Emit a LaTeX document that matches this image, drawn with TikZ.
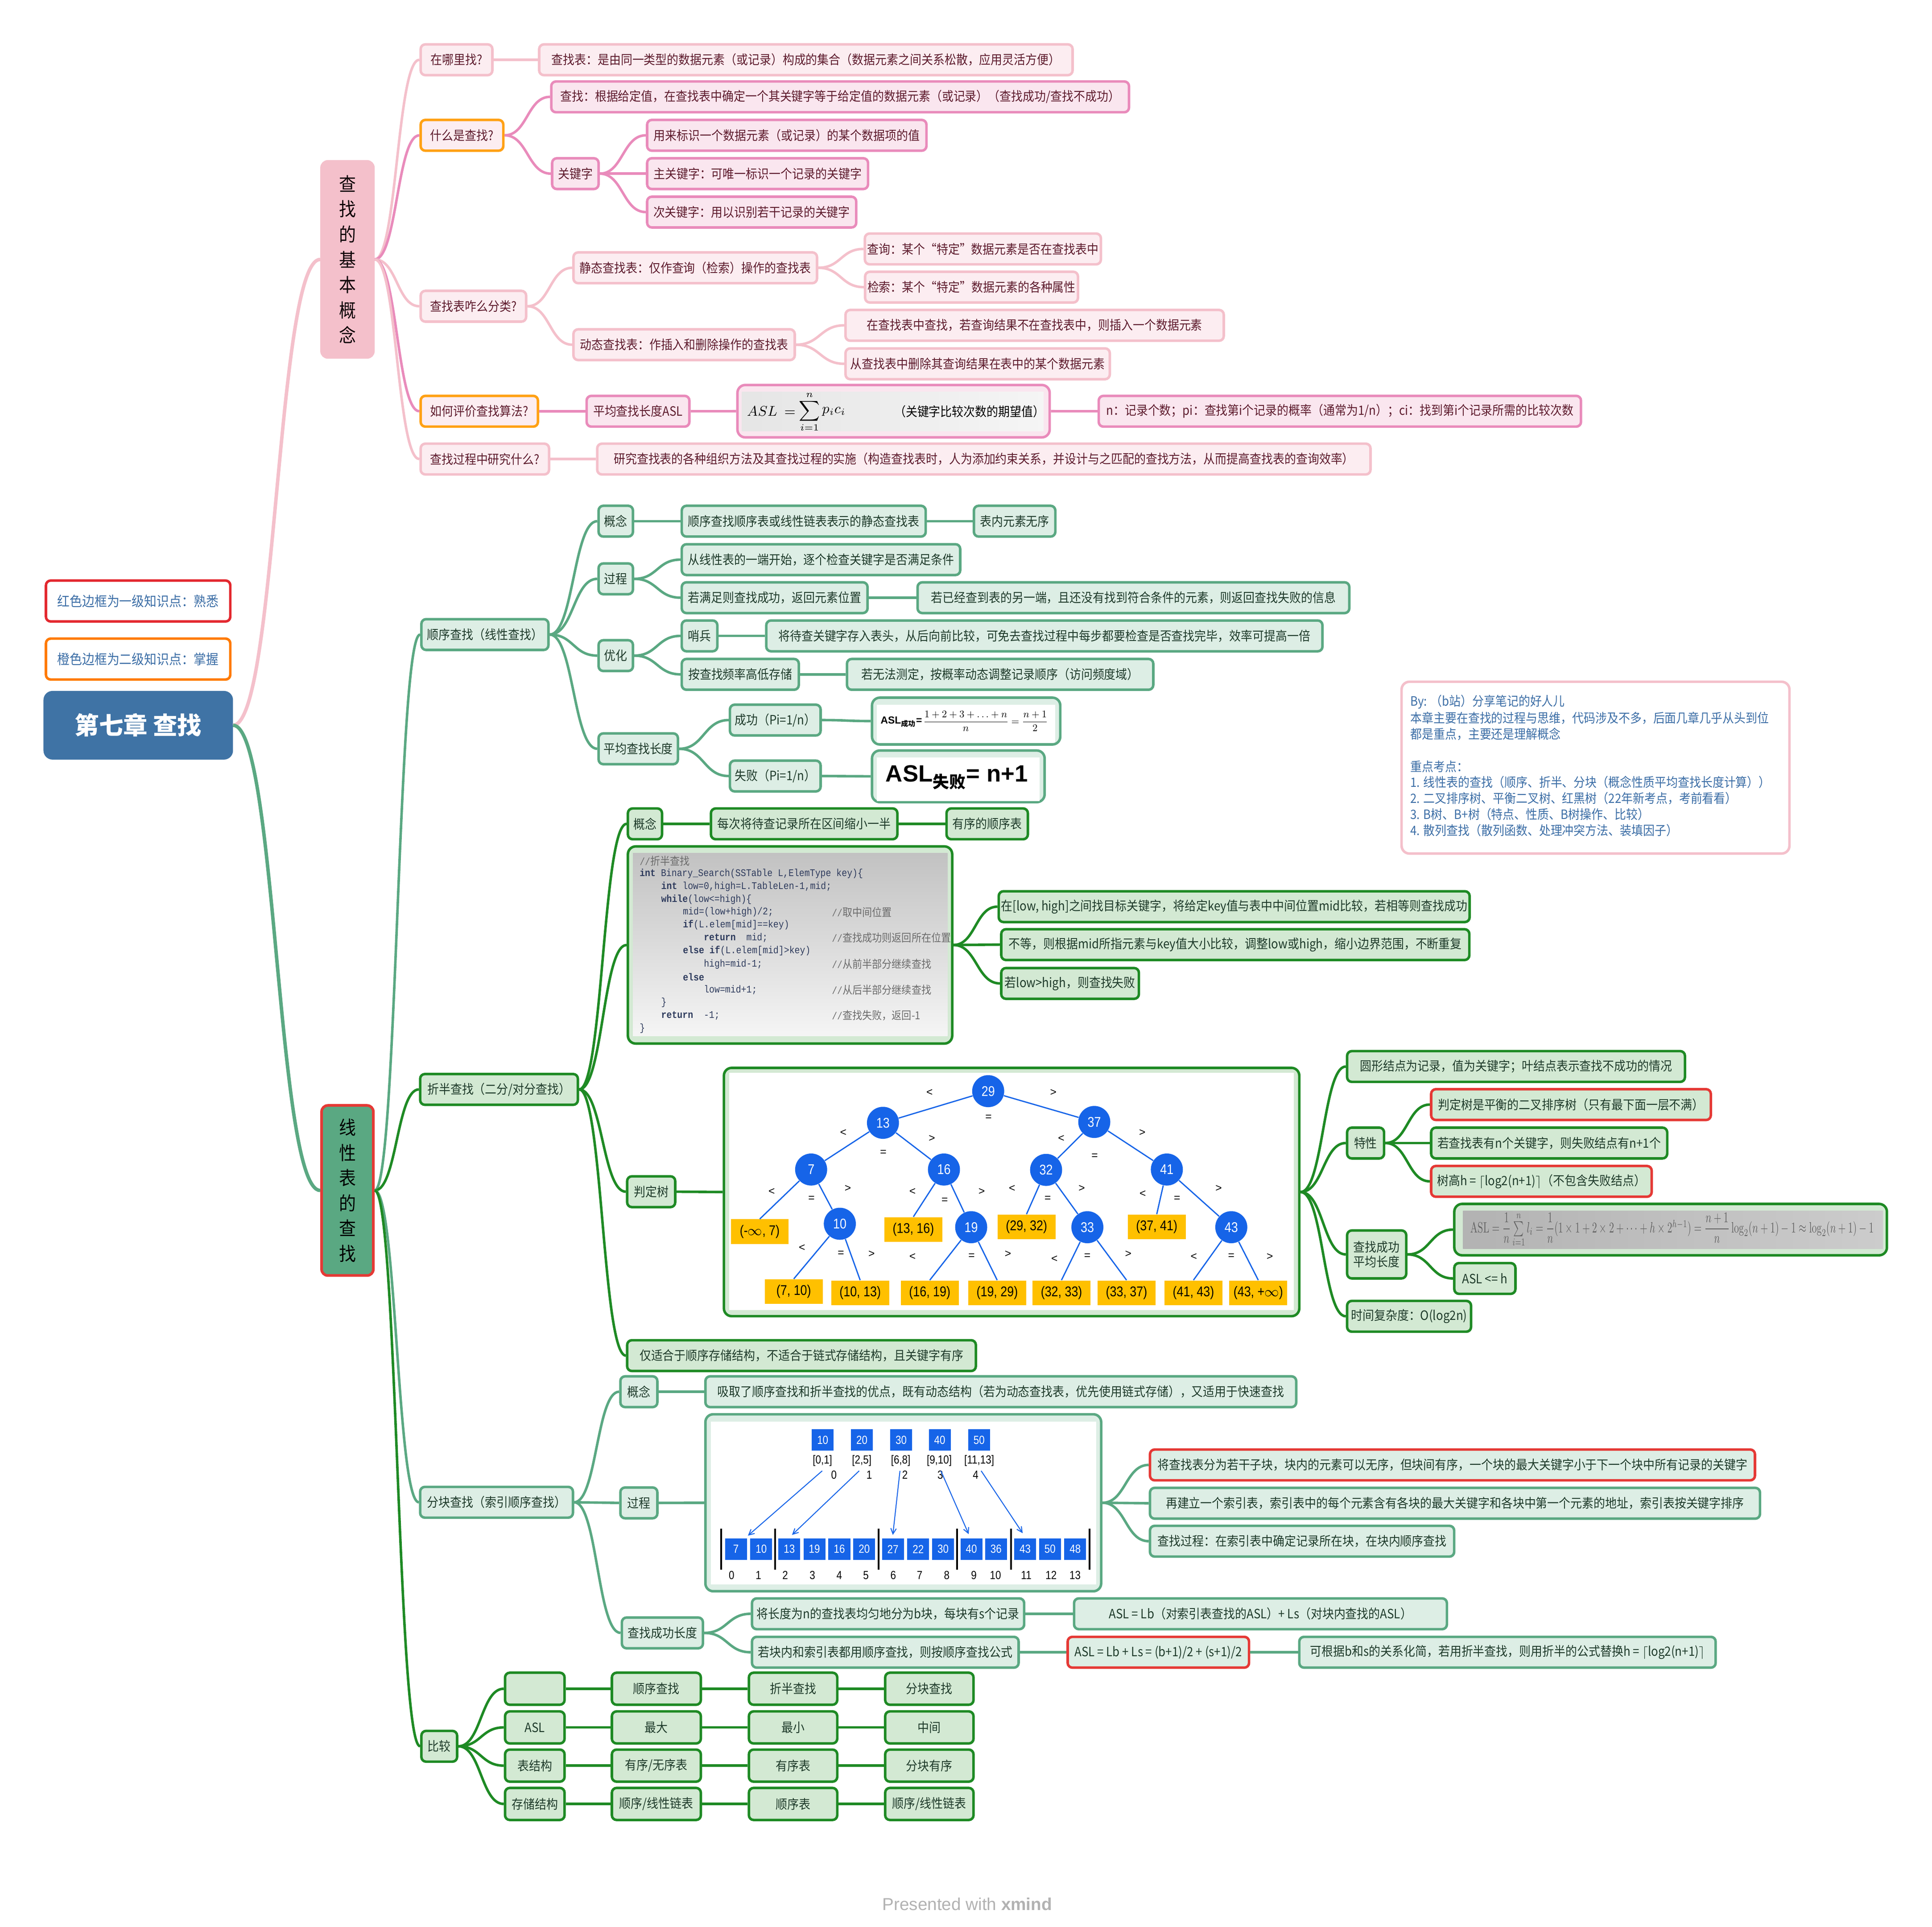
\documentclass[tikz,border=0pt]{standalone}
\usepackage{amsmath}
\usepackage{graphicx}
\usepackage[no-math]{fontspec}
\setmainfont{Noto Sans CJK SC}[FakeStretch=0.9]
\newfontfamily\cjkplain{Noto Sans CJK SC}
\newfontfamily\lsans{Liberation Sans}
\newfontfamily\lsansn{Liberation Sans}[FakeStretch=0.85]
\newfontfamily\lmono{Liberation Mono}[FakeStretch=0.87]
\usetikzlibrary{calc,arrows.meta}
\definecolor{pinkL}{HTML}{F4C0CB}
\definecolor{pinkS}{HTML}{E98BBB}
\definecolor{pinkF}{HTML}{FCEDF1}
\definecolor{pinkF2}{HTML}{FAE6EF}
\definecolor{pinkT}{HTML}{5E1B2D}
\definecolor{orB}{HTML}{FFA114}
\definecolor{gMid}{HTML}{5AA882}
\definecolor{gMidF}{HTML}{DDEEE5}
\definecolor{gViv}{HTML}{1E8A24}
\definecolor{gVivF}{HTML}{D3E9D3}
\definecolor{gT}{HTML}{1E3A2A}
\definecolor{redB}{HTML}{E53935}
\definecolor{rootB}{HTML}{3F73A5}
\definecolor{noteT}{HTML}{3C6EA6}
\definecolor{legR}{HTML}{E3282F}
\definecolor{legO}{HTML}{FF7A00}
\definecolor{treeB}{HTML}{1664E8}
\definecolor{leafY}{HTML}{FFC000}
\definecolor{codeT}{HTML}{2D3A5C}
\definecolor{cmt}{HTML}{6B6B6B}
\newcommand\myun{0.027628cm}
\newcommand\nf{\fontsize{8.2}{9.5}\selectfont}
\newcommand\bx[6]{\node[#1,minimum width={(#4-#3)*\myun}] (#2) at ({(#3+#4)/2},#5) {#6};}
\newcommand\cn[3]{\draw[#1] (#2.east) to[mm] (#3.west);}
\newcommand\kw[1]{\textbf{#1}}
\newcommand\cmz[1]{{\normalfont\fontsize{7}{8}\selectfont #1}}
\tikzset{
  mm/.style={to path={let \p1=(\tikztostart), \p2=(\tikztotarget), \n1={0.5*(\x2-\x1)} in .. controls (\x1+\n1,\y1) and (\x2-\n1,\y2) .. (\tikztotarget)}},
  mbox/.style={rounded corners=3pt, line width=1.6pt, minimum height=0.69cm, inner xsep=1.5pt, inner ysep=1pt, font=\nf, align=center},
  pl/.style={mbox, draw=pinkL, fill=pinkF, text=pinkT},
  ps/.style={mbox, draw=pinkS, fill=pinkF2, text=pinkT},
  po/.style={mbox, draw=orB, fill=pinkF, text=pinkT},
  gm/.style={mbox, draw=gMid, fill=gMidF, text=gT},
  gv/.style={mbox, draw=gViv, fill=gVivF, text=gT},
  gmr/.style={gm, draw=redB},
  gvr/.style={gv, draw=redB},
  topic/.style={rounded corners=4pt, line width=1.7pt, align=center, inner sep=0pt, font=\fontsize{12}{16.1}\selectfont},
  legst/.style={mbox, fill=white, text=noteT, line width=1.6pt, minimum height={33.2*\myun}, font=\fontsize{8.8}{10}\selectfont},
  rootst/.style={mbox, draw=rootB, fill=rootB, text=white, rounded corners=5pt, minimum height={53.7*\myun}, font=\cjkplain\bfseries\fontsize{15.5}{18}\selectfont},
  lp/.style={draw=pinkL, line width=1.6pt},
  lps/.style={draw=pinkS, line width=1.6pt},
  lgm/.style={draw=gMid, line width=1.6pt},
  lgv/.style={draw=gViv, line width=1.6pt},
  lrp/.style={draw=pinkL, line width=2.2pt},
  lrg/.style={draw=gMid, line width=2.2pt},
  tc/.style={circle, fill=treeB, text=white, minimum size={26*\myun}, inner sep=0pt, font=\lsansn\fontsize{9}{10}\selectfont},
  leaf/.style={fill=leafY, text=black, minimum width={47*\myun}, minimum height={20*\myun}, inner sep=0pt, font=\lsansn\fontsize{9}{10}\selectfont},
  te/.style={draw=treeB, line width=0.8pt},
  tlab/.style={inner sep=0pt, font=\lsans\fontsize{7}{8}\selectfont},
  bsq/.style={fill=treeB, text=white, minimum width={17.8*\myun}, minimum height={17.4*\myun}, inner sep=0pt, font=\lsansn\fontsize{7.5}{8}\selectfont},
  blab/.style={inner sep=0pt, text=black, font=\lsansn\fontsize{7.5}{8}\selectfont},
  barr/.style={draw=treeB, line width=0.6pt, -{Straight Barb[length=3.5pt,width=3.5pt]}},
  cd/.style={inner sep=0pt, anchor=west, text=codeT, font=\lmono\fontsize{6.5}{7}\selectfont},
  fm/.style={inner sep=0pt, text=black},
}
\begin{document}
\begin{tikzpicture}[x=0.027628cm,y=-0.027628cm]
\fill[white] (0,0) rectangle (1568,1563.6);
\useasboundingbox (0,0) rectangle (1568,1563.6);

% ---------- legend and root
\bx{legst,draw=legR}{leg1}{37.3}{186.9}{487.7}{红色边框为一级知识点：熟悉}
\bx{legst,draw=legO}{leg2}{37.3}{186.9}{534.8}{橙色边框为二级知识点：掌握}
\bx{rootst}{root}{36.3}{188.1}{588.5}{第七章 查找}

% ---------- main topics
\node[topic, draw=pinkL, fill=pinkL, text=black!85!pinkT, minimum width={42*\myun}, minimum height={159*\myun}] (P0) at (282,210.5) {查\\找\\的\\基\\本\\概\\念};
\node[topic, draw=redB, fill=gMid, text=black, minimum width={42*\myun}, minimum height={138*\myun}] (G0) at (282,966) {线\\性\\表\\的\\查\\找};

% ---------- pink branch
\bx{pl}{p1}{341.4}{399.6}{48.5}{在哪里找?}
\bx{pl}{p1a}{437.6}{870.5}{48.5}{查找表：是由同一类型的数据元素（或记录）构成的集合（数据元素之间关系松散，应用灵活方便）}
\bx{po}{p2}{341.4}{408.5}{109.8}{什么是查找?}
\bx{ps}{p2a}{447.4}{916.3}{78.6}{查找：根据给定值，在查找表中确定一个其关键字等于给定值的数据元素（或记录）（查找成功/查找不成功）}
\bx{ps}{p2b}{448.1}{485.8}{140.9}{关键字}
\bx{ps}{p2b1}{525.2}{751.9}{109.8}{用来标识一个数据元素（或记录）的某个数据项的值}
\bx{ps}{p2b2}{525.2}{704.5}{140.9}{主关键字：可唯一标识一个记录的关键字}
\bx{ps}{p2b3}{525.2}{694.9}{172.1}{次关键字：用以识别若干记录的关键字}
\bx{pl}{p3}{341.4}{427}{248.5}{查找表咋么分类?}
\bx{pl}{p3a}{465.4}{663.1}{217.3}{静态查找表：仅作查询（检索）操作的查找表}
\bx{pl}{p3a1}{704.4}{891.0}{202}{查询：某个“特定”数据元素是否在查找表中}
\bx{pl}{p3a2}{704.4}{872.6}{233}{检索：某个“特定”数据元素的各种属性}
\bx{pl}{p3b}{465.4}{645.0}{279.7}{动态查找表：作插入和删除操作的查找表}
\bx{pl}{p3b1}{686.2}{993.2}{264}{在查找表中查找，若查询结果不在查找表中，则插入一个数据元素}
\bx{pl}{p3b2}{686.2}{900.7}{295.2}{从查找表中删除其查询结果在表中的某个数据元素}
\bx{po}{p4}{341.4}{436.6}{333.7}{如何评价查找算法?}
\bx{ps}{p4a}{476.1}{559.5}{333.7}{平均查找长度ASL}
\node[ps, minimum width={253.4*\myun}, minimum height={42.5*\myun}, rounded corners=5pt] (p4b) at (725.2,333.65) {};
\shade[left color=black!10, right color=black!4] (602.2,318.1) rectangle (846.9,350);
\node[fm, anchor=west] (p4f1) at (606,333.5) {\fontsize{9}{11}\selectfont$ASL\ =$};
\node[fm] (p4fs) at (657,333.5) {\fontsize{9}{11}\selectfont$\displaystyle\sum$};
\node[fm] (p4fn) at (657,320.5) {\fontsize{6.5}{7}\selectfont$n$};
\node[fm] (p4fi) at (657,346.8) {\fontsize{6.5}{7}\selectfont$i{=}1$};
\node[fm, anchor=west] (p4fp) at (667,334) {\fontsize{9}{11}\selectfont$p_i c_i$};
\node[fm, font=\nf] (p4f2) at (786.8,334) {（关键字比较次数的期望值）};
\bx{ps}{p4c}{891.7}{1283.1}{333.7}{n：记录个数；pi：查找第i个记录的概率（通常为1/n）；ci：找到第i个记录所需的比较次数}
\bx{pl}{p5}{341.4}{445.6}{372.5}{查找过程中研究什么?}
\bx{pl}{p5a}{484.7}{1112.3}{372.5}{研究查找表的各种组织方法及其查找过程的实施（构造查找表时，人为添加约束关系，并设计与之匹配的查找方法，从而提高查找表的查询效率）}

% ---------- sequential search
\bx{gm}{s}{342}{445.1}{514.9}{顺序查找（线性查找）}
\bx{gm}{s1}{485.8}{513.7}{422.9}{概念}
\bx{gm}{s1a}{553.3}{751.3}{422.9}{顺序查找顺序表或线性链表表示的静态查找表}
\bx{gm}{s1b}{790.4}{856.5}{422.9}{表内元素无序}
\bx{gm}{s2}{485.8}{513.7}{469.7}{过程}
\bx{gm}{s2a}{553.3}{779.3}{454.1}{从线性表的一端开始，逐个检查关键字是否满足条件}
\bx{gm}{s2b}{553.3}{704.1}{485}{若满足则查找成功，返回元素位置}
\bx{gm}{s2c}{744.7}{1095.1}{485}{若已经查到表的另一端，且还没有找到符合条件的元素，则返回查找失败的信息}
\bx{gm}{s3}{485.8}{513.7}{532}{优化}
\bx{gm}{s3a}{553.3}{582.2}{516}{哨兵}
\bx{gm}{s3a1}{621.9}{1073.3}{516}{将待查关键字存入表头，从后向前比较，可免去查找过程中每步都要检查是否查找完毕，效率可提高一倍}
\bx{gm}{s3b}{553.3}{648.3}{547.2}{按查找频率高低存储}
\bx{gm}{s3b1}{687.4}{936}{547.2}{若无法测定，按概率动态调整记录顺序（访问频度域）}
\bx{gm}{s4}{485.8}{550.2}{607.6}{平均查找长度}
\bx{gm}{s4a}{592.4}{666.0}{584.3}{成功（Pi=1/n）}
\bx{gm}{s4b}{592.4}{666.0}{629.7}{失败（Pi=1/n）}
\node[gm, minimum width={152.8*\myun}, minimum height={38*\myun}, rounded corners=5pt] (s4af) at (784.1,585.1) {};
\fill[white] (711.7,571.8) rectangle (856.5,602.5);
\node[fm, anchor=west] (s4af1) at (714.5,585.8) {\lsans\bfseries\fontsize{6.5}{7}\selectfont ASL\textsubscript{\cjkplain 成功}=};
\node[fm, anchor=west] (s4af2) at (749,585.3) {\resizebox{2.8cm}{!}{$\dfrac{1+2+3+\ldots+n}{n}=\dfrac{n+1}{2}$}};
\node[gm, minimum width={140.1*\myun}, minimum height={41.9*\myun}, rounded corners=5pt] (s4bf) at (777.75,629.95) {};
\fill[white] (711.7,614.6) rectangle (843.8,650);
\node[fm] (s4bf1) at (776.5,631) {\lsans\bfseries\fontsize{15}{16}\selectfont ASL\textsubscript{\cjkplain\bfseries 失败}= n+1};

% ---------- binary search
\bx{gv}{b}{341}{469}{884}{折半查找（二分/对分查找）}
\bx{gv}{b1}{509.6}{537.3}{668.5}{概念}
\bx{gv}{b1a}{577}{728.3}{668.5}{每次将待查记录所在区间缩小一半}
\bx{gv}{b1b}{768.2}{834.2}{668.5}{有序的顺序表}
\node[gv, minimum width={263.2*\myun}, minimum height={160*\myun}, rounded corners=5pt] (b2) at (641.2,766.8) {};
\shade[top color=black!24, bottom color=black!4] (513.7,692.4) rectangle (769,840.6);
\node[cd, text=cmt] (cl1) at (518.9,698.6) {//\cmz{折半查找}};
\node[cd] (cl2) at (518.9,709.0) {\kw{int} Binary\_Search(SSTable L,ElemType key)\{};
\node[cd] (cl3) at (536.4,719.4) {\kw{int} low=0,high=L.TableLen-1,mid;};
\node[cd] (cl4) at (536.4,729.8) {\kw{while}(low<=high)\{};
\node[cd] (cl5) at (554.0,740.2) {mid=(low+high)/2;};
\node[cd] (cl6) at (554.0,750.5) {\kw{if}(L.elem[mid]==key)};
\node[cd] (cl7) at (571.0,760.9) {\kw{return}\ \ mid;};
\node[cd] (cl8) at (554.0,771.3) {\kw{else} \kw{if}(L.elem[mid]>key)};
\node[cd] (cl9) at (571.0,782.4) {high=mid-1;};
\node[cd] (cl10) at (554.0,792.8) {\kw{else}};
\node[cd] (cl11) at (571.0,803.2) {low=mid+1;};
\node[cd] (cl12) at (536.4,813.6) {\}};
\node[cd] (cl13) at (536.4,824.0) {\kw{return}\ \ -1;};
\node[cd] (cl14) at (518.9,834.4) {\}};
\node[cd, text=cmt] (cc5) at (674.9,740.2) {//\cmz{取中间位置}};
\node[cd, text=cmt] (cc7) at (674.9,760.9) {//\cmz{查找成功则返回所在位置}};
\node[cd, text=cmt] (cc9) at (674.9,782.4) {//\cmz{从前半部分继续查找}};
\node[cd, text=cmt] (cc11) at (674.9,803.2) {//\cmz{从后半部分继续查找}};
\node[cd, text=cmt] (cc13) at (674.9,824.0) {//\cmz{查找失败，返回-1}};
\bx{gv}{b2a}{812.6}{1190.7}{735.7}{在[low, high]之间找目标关键字，将给定key值与表中中间位置mid比较，若相等则查找成功}
\bx{gv}{b2b}{812.6}{1192.5}{766.5}{不等，则根据mid所指元素与key值大小比较，调整low或high，缩小边界范围，不断重复}
\bx{gv}{b2c}{812.6}{924.3}{798}{若low>high，则查找失败}
\bx{gv}{b3}{509}{548}{967}{判定树}
\node[gv, minimum width={467*\myun}, minimum height={201.5*\myun}, rounded corners=5pt] (b3t) at (821,967.25) {};
\fill[white] (591.9,870.6) rectangle (1049.9,1063.2);
% tree
\node[tc] (t29) at (802.0,885.4) {29};
\node[tc] (t13) at (716.6,911.1) {13};
\node[tc] (t37) at (888.1,910.4) {37};
\node[tc] (t7) at (658.3,949.0) {7};
\node[tc] (t16) at (766.1,949.0) {16};
\node[tc] (t32) at (849.0,949.3) {32};
\node[tc] (t41) at (947.0,949.0) {41};
\node[tc] (t10) at (681.6,993.0) {10};
\node[tc] (t19) at (788.2,995.8) {19};
\node[tc] (t33) at (882.5,995.8) {33};
\node[tc] (t43) at (999.3,995.8) {43};
\node[leaf] (L1) at (616.6,999.4) {(-$\infty$, 7)};
\node[leaf] (L2) at (741.3,997.6) {(13, 16)};
\node[leaf] (L3) at (833.1,995.5) {(29, 32)};
\node[leaf] (L4) at (938.8,995.5) {(37, 41)};
\node[leaf] (L5) at (644.2,1048) {(7, 10)};
\node[leaf] (L6) at (698.1,1049) {(10, 13)};
\node[leaf] (L7) at (754.6,1049) {(16, 19)};
\node[leaf] (L8) at (809.3,1049) {(19, 29)};
\node[leaf] (L9) at (861.5,1049) {(32, 33)};
\node[leaf] (L10) at (914.3,1049) {(33, 37)};
\node[leaf] (L11) at (968.6,1049) {(41, 43)};
\node[leaf] (L12) at (1021.2,1049) {(43, +$\infty$)};
\draw[te] (t29) -- (t13); \draw[te] (t29) -- (t37);
\draw[te] (t13) -- (t7); \draw[te] (t13) -- (t16);
\draw[te] (t37) -- (t32); \draw[te] (t37) -- (t41);
\draw[te] (t7) -- (L1.north); \draw[te] (t7) -- (t10);
\draw[te] (t16) -- (L2.north); \draw[te] (t16) -- (t19);
\draw[te] (t32) -- (L3.north); \draw[te] (t32) -- (t33);
\draw[te] (t41) -- (L4.north); \draw[te] (t41) -- (t43);
\draw[te] (t10) -- (L5.north); \draw[te] (t10) -- (L6.north);
\draw[te] (t19) -- (L7.north); \draw[te] (t19) -- (L8.north);
\draw[te] (t33) -- (L9.north); \draw[te] (t33) -- (L10.north);
\draw[te] (t43) -- (L11.north); \draw[te] (t43) -- (L12.north);
\foreach \xx/\yy/\sy [count=\i] in {754.4/886.6/<, 854.9/886.6/>, 802.3/906.9/=,
  684.4/919.2/<, 756.3/923.9/>, 716.9/935.5/=,
  861.3/923.9/<, 927.1/919.2/>, 888.4/938.3/=,
  626.3/966.9/<, 688.1/964.5/>, 658.6/972.9/=,
  740.6/966.9/<, 796.8/966.9/>, 766.7/974.3/=,
  821.4/964.5/<, 877.9/964.5/>, 850.3/972.9/=,
  927.4/968.7/<, 989.1/964.5/>, 955.3/972.6/=,
  650.9/1012.4/<, 707.4/1017.6/>, 682.5/1017.3/=,
  740.6/1019.7/<, 818.0/1017.6/>, 788.5/1019.4/=,
  855.8/1021.5/<, 915.7/1017.6/>, 882.5/1019.4/=,
  968.9/1019.7/<, 1030.6/1019.7/>, 999.3/1019.4/=}
  {\node[tlab] (tl\i) at (\xx,\yy) {\sy};}
\bx{gv}{b3a}{1093.3}{1367.5}{865.4}{圆形结点为记录，值为关键字；叶结点表示查找不成功的情况}
\bx{gv}{b3b}{1093.3}{1123.3}{927.5}{特性}
\bx{gvr}{b3b1}{1161.5}{1388.5}{896.3}{判定树是平衡的二叉排序树（只有最下面一层不满）}
\bx{gv}{b3b2}{1161.5}{1353.1}{927.5}{若查找表有n个关键字，则失败结点有n+1个}
\bx{gvr}{b3b3}{1161.5}{1340.5}{958.6}{树高h = $\lceil$log2(n+1)$\rceil$（不包含失败结点）}
\bx{gv,minimum height={38.9*\myun}}{b3c}{1093.3}{1141.3}{1017.9}{查找成功\\平均长度}
\node[gv, minimum width={351.1*\myun}, minimum height={41.7*\myun}, rounded corners=5pt] (b3c1) at (1355.85,997.75) {};
\shade[left color=black!30, right color=black!20] (1187.3,982.6) rectangle (1528.2,1013.3);
\node[inner sep=0pt] (b3cf) at (1357,998) {\color{black!62}\resizebox*{9.05cm}{0.78cm}{$\mathrm{ASL}=\dfrac{1}{n}\sum\limits_{i=1}^{n}l_i=\dfrac{1}{n}(1\times1+2\times2+\cdots+h\times2^{h-1})=\dfrac{n+1}{n}\log_2(n+1)-1\approx\log_2(n+1)-1$}};
\bx{gv}{b3c2}{1180.3}{1229.9}{1037.4}{ASL <= h}
\bx{gv}{b3d}{1093.3}{1193.9}{1068.1}{时间复杂度：O(log2n)}
\bx{gv}{b4}{509}{792}{1100}{仅适合于顺序存储结构，不适合于链式存储结构，且关键字有序}

% ---------- block search
\bx{gm}{k}{341}{465}{1219}{分块查找（索引顺序查找）}
\bx{gm}{k1}{503.5}{533.5}{1129.3}{概念}
\bx{gm}{k1a}{572.5}{1052}{1129.3}{吸取了顺序查找和折半查找的优点，既有动态结构（若为动态查找表，优先使用链式存储），又适用于快速查找}
\bx{gm}{k2}{503.5}{533.5}{1219.5}{过程}
\node[gm, minimum width={321.2*\myun}, minimum height={143.6*\myun}, rounded corners=5pt] (k2i) at (733.1,1219.4) {};
\fill[white] (577,1153.4) rectangle (889.7,1285.5);
\node[bsq] (i0) at (667.7,1168.5) {10};
\node[bsq] (i1) at (699.5,1168.5) {20};
\node[bsq] (i2) at (731.4,1168.5) {30};
\node[bsq] (i3) at (762.7,1168.5) {40};
\node[bsq] (i4) at (794.6,1168.5) {50};
\node[blab] (r0) at (667.5,1185.4) {[0,1]};
\node[blab] (r1) at (699.4,1185.4) {[2,5]};
\node[blab] (r2) at (731.0,1185.4) {[6,8]};
\node[blab] (r3) at (762.3,1185.4) {[9,10]};
\node[blab] (r4) at (794.7,1185.4) {[11,13]};
\foreach \xx/\tt [count=\i] in {676.8/0, 705.5/1, 734.4/2, 763.1/3, 791.8/4}
  {\node[blab] (q\i) at (\xx,1196.8) {\tt};}
\foreach \xx/\tt [count=\i] in {597.3/7, 617.8/10, 640.6/13, 661.0/19, 681.2/16, 701.4/20, 724.7/27, 745.2/22, 765.4/30, 788.4/40, 808.4/36, 832.0/43, 852.2/50, 872.6/48}
  {\node[bsq] (a\i) at (\xx,1257) {\tt};}
\foreach \xx/\tt [count=\i] in {593.7/0, 615.5/1, 637.3/2, 659.3/3, 681.1/4, 702.8/5, 724.9/6, 746.4/7, 768.4/8, 790.4/9, 807.9/10, 832.9/11, 853.1/12, 872.5/13}
  {\node[blab] (z\i) at (\xx,1278.3) {\tt};}
\foreach \xx in {585.2, 629.0, 713.2, 776.9, 820.4, 884.4}
  {\draw[line width=1.1pt, black] (\xx,1240.3) -- (\xx,1273.8);}
\coordinate (as0) at (667.3,1193.5); \coordinate (ae0) at (607.0,1246.1);
\coordinate (as1) at (697.3,1193.5); \coordinate (ae1) at (642.8,1245.5);
\coordinate (as2) at (730.4,1193.5); \coordinate (ae2) at (724.6,1245.5);
\coordinate (as3) at (763.6,1193.5); \coordinate (ae3) at (786.2,1244.9);
\coordinate (as4) at (796.3,1193.5); \coordinate (ae4) at (830.0,1244.1);
\foreach \i in {0,...,4} {\draw[barr] (as\i) -- (ae\i);}
\bx{gmr}{k2a}{933.3}{1424.3}{1188.7}{将查找表分为若干子块，块内的元素可以无序，但块间有序，一个块的最大关键字小于下一个块中所有记录的关键字}
\bx{gm}{k2b}{933.3}{1428.4}{1219.8}{再建立一个索引表，索引表中的每个元素含有各块的最大关键字和各块中第一个元素的地址，索引表按关键字排序}
\bx{gm}{k2c}{933.3}{1180.2}{1250.6}{查找过程：在索引表中确定记录所在块，在块内顺序查找}
\bx{gm}{k3}{504.7}{570.5}{1325}{查找成功长度}
\bx{gm}{k3a}{610.3}{831.2}{1309.5}{将长度为n的查找表均匀地分为b块，每块有s个记录}
\bx{gm}{k3a1}{871.7}{1174.3}{1309.5}{ASL = Lb（对索引表查找的ASL）+ Ls（对块内查找的ASL）}
\bx{gm}{k3b}{610.3}{826.7}{1340.7}{若块内和索引表都用顺序查找，则按顺序查找公式}
\bx{gmr}{k3b1}{866.5}{1013.7}{1340.7}{ASL = Lb + Ls = (b+1)/2 + (s+1)/2}
\bx{gm}{k3b2}{1054.5}{1392.4}{1340.7}{可根据b和s的关系化简，若用折半查找，则用折半的公式替换h = $\lceil$log2(n+1)$\rceil$}

% ---------- comparison
\bx{gv}{c}{342}{371}{1417}{比较}
\bx{gv,minimum height={26*\myun}}{c1}{409.9}{458.2}{1370.3}{}
\bx{gv,minimum height={26*\myun}}{c1a}{496.6}{568.8}{1370.3}{顺序查找}
\bx{gv,minimum height={26*\myun}}{c1b}{607.8}{679.5}{1370.3}{折半查找}
\bx{gv,minimum height={26*\myun}}{c1c}{718.4}{790.1}{1370.3}{分块查找}
\bx{gv,minimum height={26*\myun}}{c2}{409.9}{458.2}{1401.7}{ASL}
\bx{gv,minimum height={26*\myun}}{c2a}{496.6}{568.8}{1401.7}{最大}
\bx{gv,minimum height={26*\myun}}{c2b}{607.8}{679.5}{1401.7}{最小}
\bx{gv,minimum height={26*\myun}}{c2c}{718.4}{790.1}{1401.7}{中间}
\bx{gv,minimum height={26*\myun}}{c3}{409.9}{458.2}{1432.7}{表结构}
\bx{gv,minimum height={26*\myun}}{c3a}{496.6}{568.8}{1432.7}{有序/无序表}
\bx{gv,minimum height={26*\myun}}{c3b}{607.8}{679.5}{1432.7}{有序表}
\bx{gv,minimum height={26*\myun}}{c3c}{718.4}{790.1}{1432.7}{分块有序}
\bx{gv,minimum height={26*\myun}}{c4}{409.9}{458.2}{1463.8}{存储结构}
\bx{gv,minimum height={26*\myun}}{c4a}{496.6}{568.8}{1463.8}{顺序/线性链表}
\bx{gv,minimum height={26*\myun}}{c4b}{607.8}{679.5}{1463.8}{顺序表}
\bx{gv,minimum height={26*\myun}}{c4c}{718.4}{790.1}{1463.8}{顺序/线性链表}

% ---------- note
\node[draw=pinkL, fill=white, line width=1.6pt, rounded corners=5pt, minimum width={314.8*\myun}, minimum height={139.4*\myun}] (note) at (1294.9,622.9) {};
\foreach \yy/\tt [count=\i] in {569.5/{By: （b站）分享笔记的好人儿}, 582.8/{本章主要在查找的过程与思维，代码涉及不多，后面几章几乎从头到位}, 595.8/{都是重点，主要还是理解概念}, 622.2/{重点考点：}, 634.7/{1. 线性表的查找（顺序、折半、分块（概念性质平均查找长度计算））}, 647.7/{2. 二叉排序树、平衡二叉树、红黑树（22年新考点，考前看看）}, 660.6/{3. B树、B+树（特点、性质、B树操作、比较）}, 673.9/{4. 散列查找（散列函数、处理冲突方法、装填因子）}}
  {\node[anchor=west, inner sep=0pt, text=noteT, font=\nf] (nt\i) at (1144.4,\yy) {\tt};}

% ---------- footer
\node[text=black!30, font=\lsans\fontsize{11}{12}\selectfont] (foot) at (785,1545) {Presented with \textbf{xmind}};

% ---------- connectors
\cn{lrp}{root}{P0}
\cn{lrg}{root}{G0}
\cn{lp}{P0}{p1} \cn{lps}{P0}{p2} \cn{lp}{P0}{p3} \cn{lps}{P0}{p4} \cn{lp}{P0}{p5}
\cn{lp}{p1}{p1a}
\cn{lps}{p2}{p2a} \cn{lps}{p2}{p2b} \cn{lps}{p2b}{p2b1} \cn{lps}{p2b}{p2b2} \cn{lps}{p2b}{p2b3}
\cn{lp}{p3}{p3a} \cn{lp}{p3}{p3b} \cn{lp}{p3a}{p3a1} \cn{lp}{p3a}{p3a2} \cn{lp}{p3b}{p3b1} \cn{lp}{p3b}{p3b2}
\cn{lps}{p4}{p4a} \cn{lps}{p4a}{p4b} \cn{lps}{p4b}{p4c}
\cn{lp}{p5}{p5a}
\cn{lgm}{G0}{s} \cn{lgv}{G0}{b} \cn{lgm}{G0}{k} \cn{lgv}{G0}{c}
\cn{lgm}{s}{s1} \cn{lgm}{s}{s2} \cn{lgm}{s}{s3} \cn{lgm}{s}{s4}
\cn{lgm}{s1}{s1a} \cn{lgm}{s1a}{s1b}
\cn{lgm}{s2}{s2a} \cn{lgm}{s2}{s2b} \cn{lgm}{s2b}{s2c}
\cn{lgm}{s3}{s3a} \cn{lgm}{s3a}{s3a1} \cn{lgm}{s3}{s3b} \cn{lgm}{s3b}{s3b1}
\cn{lgm}{s4}{s4a} \cn{lgm}{s4a}{s4af} \cn{lgm}{s4}{s4b} \cn{lgm}{s4b}{s4bf}
\cn{lgv}{b}{b1} \cn{lgv}{b}{b2} \cn{lgv}{b}{b3} \cn{lgv}{b}{b4}
\cn{lgv}{b1}{b1a} \cn{lgv}{b1a}{b1b}
\cn{lgv}{b2}{b2a} \cn{lgv}{b2}{b2b} \cn{lgv}{b2}{b2c}
\cn{lgv}{b3}{b3t}
\cn{lgv}{b3t}{b3a} \cn{lgv}{b3t}{b3b} \cn{lgv}{b3t}{b3c} \cn{lgv}{b3t}{b3d}
\cn{lgv}{b3b}{b3b1} \cn{lgv}{b3b}{b3b2} \cn{lgv}{b3b}{b3b3}
\cn{lgv}{b3c}{b3c1} \cn{lgv}{b3c}{b3c2}
\cn{lgm}{k}{k1} \cn{lgm}{k}{k2} \cn{lgm}{k}{k3}
\cn{lgm}{k1}{k1a} \cn{lgm}{k2}{k2i}
\cn{lgm}{k2i}{k2a} \cn{lgm}{k2i}{k2b} \cn{lgm}{k2i}{k2c}
\cn{lgm}{k3}{k3a} \cn{lgm}{k3a}{k3a1} \cn{lgm}{k3}{k3b} \cn{lgm}{k3b}{k3b1} \cn{lgm}{k3b1}{k3b2}
\cn{lgv}{c}{c1} \cn{lgv}{c}{c2} \cn{lgv}{c}{c3} \cn{lgv}{c}{c4}
\cn{lgv}{c1}{c1a} \cn{lgv}{c1a}{c1b} \cn{lgv}{c1b}{c1c}
\cn{lgv}{c2}{c2a} \cn{lgv}{c2a}{c2b} \cn{lgv}{c2b}{c2c}
\cn{lgv}{c3}{c3a} \cn{lgv}{c3a}{c3b} \cn{lgv}{c3b}{c3c}
\cn{lgv}{c4}{c4a} \cn{lgv}{c4a}{c4b} \cn{lgv}{c4b}{c4c}
\end{tikzpicture}
\end{document}
